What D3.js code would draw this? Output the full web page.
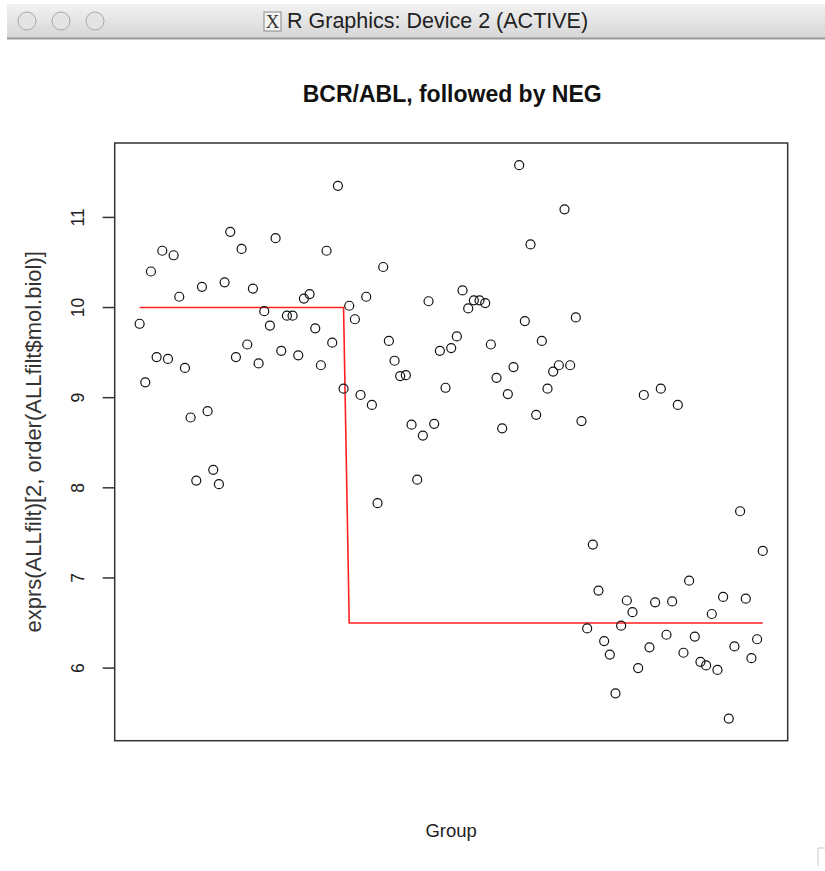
<!DOCTYPE html>
<html>
<head>
<meta charset="utf-8">
<script src="https://cdn.jsdelivr.net/npm/d3@7"></script>
<style>
body { margin: 0; background: #fff; }
</style>
</head>
<body>
<script>
// values, in sample order (BCR/ABL first, then NEG)
var bcrAbl = [9.82, 9.17, 10.40, 9.45, 10.63, 9.43, 10.58, 10.12, 9.33, 8.78,
              8.08, 10.23, 8.85, 8.20, 8.04, 10.28, 10.84, 9.45, 10.65, 9.59,
              10.21, 9.38, 9.96, 9.80, 10.77, 9.52, 9.91, 9.91, 9.47, 10.10,
              10.15, 9.77, 9.36, 10.63, 9.61, 11.35, 9.10];
var neg = [10.02, 9.87, 9.03, 10.12, 8.92, 7.83, 10.45, 9.63, 9.41, 9.24,
           9.25, 8.70, 8.09, 8.58, 10.07, 8.71, 9.52, 9.11, 9.55, 9.68,
           10.19, 9.99, 10.08, 10.08, 10.05, 9.59, 9.22, 8.66, 9.04, 9.34,
           11.58, 9.85, 10.70, 8.81, 9.63, 9.10, 9.29, 9.36, 11.09, 9.36,
           9.89, 8.74, 6.44, 7.37, 6.86, 6.30, 6.15, 5.72, 6.47, 6.75,
           6.62, 6.00, 9.03, 6.23, 6.73, 9.10, 6.37, 6.74, 8.92, 6.17,
           6.97, 6.35, 6.07, 6.03, 6.60, 5.98, 6.79, 5.44, 6.24, 7.74,
           6.77, 6.11, 6.32, 7.30];
var groupLevel = [10, 6.5];   // red step line: BCR/ABL level, NEG level
var yTicks = [6, 7, 8, 9, 10, 11];

var width = 825, height = 871;
var plot = {left: 114.7, right: 787.7, top: 143, bottom: 740.7};

var values = bcrAbl.concat(neg);
var n = values.length;

// R style 4% padding on both axes
var ymin = d3.min(values), ymax = d3.max(values), yr = ymax - ymin;
var x = d3.scaleLinear()
    .domain([1 - 0.04 * (n - 1), n + 0.04 * (n - 1)])
    .range([plot.left, plot.right]);
var y = d3.scaleLinear()
    .domain([ymin - 0.04 * yr, ymax + 0.04 * yr])
    .range([plot.bottom, plot.top]);

var svg = d3.select("body").append("svg")
    .attr("width", width)
    .attr("height", height)
    .style("font-family", "'Liberation Sans', Arial, Helvetica, sans-serif");

// window title bar
var grad = svg.append("defs").append("linearGradient")
    .attr("id", "bar").attr("x1", 0).attr("y1", 0).attr("x2", 0).attr("y2", 1);
grad.append("stop").attr("offset", "0%").attr("stop-color", "#f2f2f2");
grad.append("stop").attr("offset", "100%").attr("stop-color", "#d6d6d6");
svg.append("rect").attr("x", 7).attr("y", 4).attr("width", width - 7).attr("height", 34)
    .attr("fill", "url(#bar)");
svg.append("line").attr("x1", 7).attr("x2", width).attr("y1", 38.5).attr("y2", 38.5)
    .attr("stroke", "#9a9a9a").attr("stroke-width", 2);
svg.selectAll("circle.btn").data([27, 61, 95]).enter().append("circle")
    .attr("class", "btn")
    .attr("cx", function(d) { return d; }).attr("cy", 21).attr("r", 9)
    .attr("fill", "#e4e4e4").attr("stroke", "#a8a8a8").attr("stroke-width", 1);
svg.append("rect").attr("x", 264).attr("y", 12).attr("width", 17).attr("height", 19)
    .attr("fill", "#f4f4f4").attr("stroke", "#888");
svg.append("text").attr("x", 272.5).attr("y", 28).attr("text-anchor", "middle")
    .style("font-family", "'Liberation Serif', serif").style("font-size", "19px")
    .attr("fill", "#333").text("X");
svg.append("text").attr("x", 287).attr("y", 28)
    .style("font-size", "21.5px")
    .attr("fill", "#222")
    .text("R Graphics: Device 2 (ACTIVE)");

// plot frame
svg.append("rect")
    .attr("x", plot.left).attr("y", plot.top)
    .attr("width", plot.right - plot.left).attr("height", plot.bottom - plot.top)
    .attr("fill", "none").attr("stroke", "#333").attr("stroke-width", 1.5);

// y axis (R style: ticks and rotated labels)
var yAxis = svg.append("g").attr("transform", "translate(" + plot.left + ",0)");
yAxis.selectAll("line").data(yTicks).enter().append("line")
    .attr("x1", -12).attr("x2", 0)
    .attr("y1", function(d) { return y(d); }).attr("y2", function(d) { return y(d); })
    .attr("stroke", "#333").attr("stroke-width", 1.5);
yAxis.selectAll("text").data(yTicks).enter().append("text")
    .attr("transform", function(d) { return "translate(-37," + y(d) + ") rotate(-90)"; })
    .attr("text-anchor", "middle")
    .attr("dy", "0.36em")
    .style("font-size", "17.5px").attr("fill", "#222")
    .text(function(d) { return d; });

// step line for the group levels
var steps = bcrAbl.map(function() { return groupLevel[0]; })
    .concat(neg.map(function() { return groupLevel[1]; }));
var line = d3.line()
    .x(function(d, i) { return x(i + 1); })
    .y(function(d) { return y(d); });
svg.append("path").datum(steps)
    .attr("d", line)
    .attr("fill", "none").attr("stroke", "#ff2020").attr("stroke-width", 1.6);

// points
svg.selectAll("circle.pt").data(values).enter().append("circle")
    .attr("class", "pt")
    .attr("cx", function(d, i) { return x(i + 1); })
    .attr("cy", function(d) { return y(d); })
    .attr("r", 4.5)
    .attr("fill", "none").attr("stroke", "#111").attr("stroke-width", 1.2);

// titles
svg.append("text")
    .attr("x", (plot.left + plot.right) / 2 + 1).attr("y", 101.5)
    .attr("text-anchor", "middle")
    .style("font-size", "23px").style("font-weight", "bold").attr("fill", "#111")
    .text("BCR/ABL, followed by NEG");
svg.append("text")
    .attr("transform", "translate(33," + (plot.top + plot.bottom) / 2 + ") rotate(-90)")
    .attr("text-anchor", "middle")
    .attr("dy", "0.35em")
    .style("font-size", "22px").attr("fill", "#333")
    .text("exprs(ALLfilt)[2, order(ALLfilt$mol.biol)]");
svg.append("text")
    .attr("x", (plot.left + plot.right) / 2).attr("y", 837)
    .attr("text-anchor", "middle")
    .style("font-size", "18.5px").attr("fill", "#222")
    .text("Group");

// resize corner
svg.append("path").attr("d", "M818,866 V848 H825")
    .attr("fill", "none").attr("stroke", "#ccc");
</script>
</body>
</html>
